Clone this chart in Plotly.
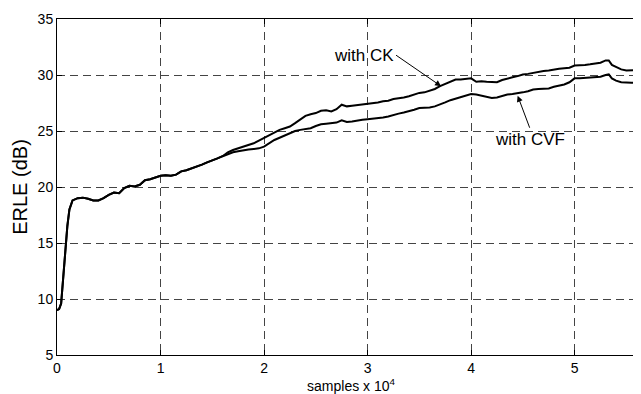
import plotly.graph_objects as go

# samples (x 10^4)
x_common = [0, 0.02, 0.04, 0.06, 0.08, 0.10, 0.12, 0.15, 0.20, 0.25, 0.30, 0.35, 0.40, 0.45,
            0.50, 0.55, 0.60, 0.65, 0.70, 0.75, 0.80, 0.85, 0.90, 0.95, 1.00, 1.05, 1.10,
            1.15, 1.20, 1.25, 1.30, 1.35, 1.40, 1.45, 1.50, 1.55, 1.60]
erle_common = [9.0, 9.1, 9.6, 12.0, 14.5, 16.5, 18.0, 18.8, 19.0, 19.05, 18.95, 18.8, 18.8,
               19.0, 19.3, 19.5, 19.45, 19.9, 20.1, 20.05, 20.2, 20.6, 20.7, 20.85, 21.0,
               21.05, 21.0, 21.1, 21.4, 21.5, 21.65, 21.85, 22.0, 22.2, 22.35, 22.55, 22.75]

x_tail = [1.65, 1.70, 1.75, 1.80, 1.85, 1.90, 1.95, 2.00, 2.05, 2.10, 2.15, 2.20, 2.25, 2.30,
          2.35, 2.40, 2.45, 2.50, 2.55, 2.60, 2.65, 2.70, 2.75, 2.80, 2.85, 2.90, 2.95, 3.00,
          3.05, 3.10, 3.15, 3.20, 3.25, 3.30, 3.35, 3.40, 3.45, 3.50, 3.55, 3.60, 3.65, 3.70,
          3.75, 3.80, 3.85, 3.90, 3.95, 4.00, 4.05, 4.10, 4.15, 4.20, 4.25, 4.30, 4.35, 4.40,
          4.45, 4.50, 4.55, 4.60, 4.65, 4.70, 4.75, 4.80, 4.85, 4.90, 4.95, 5.00, 5.05, 5.10,
          5.15, 5.20, 5.25, 5.30, 5.33, 5.36, 5.40, 5.45, 5.50, 5.55, 5.60, 5.65, 5.68]

ck_tail = [23.1, 23.3, 23.45, 23.55, 23.7, 23.9, 24.15, 24.4, 24.65, 24.9, 25.1, 25.25, 25.4,
           25.7, 26.05, 26.35, 26.5, 26.6, 26.8, 26.85, 26.75, 26.95, 27.35, 27.2, 27.25, 27.3,
           27.4, 27.45, 27.5, 27.55, 27.65, 27.7, 27.85, 27.9, 28.0, 28.1, 28.25, 28.4, 28.45,
           28.6, 28.75, 29.0, 29.2, 29.45, 29.6, 29.6, 29.65, 29.7, 29.4, 29.45, 29.4, 29.4,
           29.35, 29.55, 29.7, 29.8, 29.9, 30.05, 30.1, 30.2, 30.25, 30.35, 30.4, 30.5, 30.55,
           30.6, 30.65, 30.85, 30.85, 30.9, 30.95, 31.05, 31.1, 31.3, 31.3, 30.9, 30.7, 30.5,
           30.4, 30.4, 30.45, 30.45, 30.8]

cvf_tail = [22.95, 23.1, 23.2, 23.3, 23.35, 23.4, 23.45, 23.6, 23.9, 24.2, 24.4, 24.6, 24.75,
            25.0, 25.1, 25.2, 25.25, 25.45, 25.6, 25.65, 25.7, 25.75, 25.95, 25.8, 25.85,
            25.95, 26.0, 26.05, 26.1, 26.1, 26.2, 26.3, 26.45, 26.55, 26.65, 26.75, 26.9,
            27.05, 27.05, 27.1, 27.2, 27.35, 27.55, 27.75, 27.9, 28.05, 28.2, 28.3, 28.25,
            28.15, 28.05, 27.95, 28.0, 28.15, 28.25, 28.3, 28.35, 28.45, 28.55, 28.7, 28.75,
            28.8, 28.8, 28.95, 29.05, 29.15, 29.35, 29.7, 29.7, 29.75, 29.75, 29.8, 29.85,
            30.0, 30.05, 29.7, 29.5, 29.35, 29.3, 29.3, 29.35, 29.4, 29.7]

x_ticks = [0, 1, 2, 3, 4, 5]
y_ticks = [5, 10, 15, 20, 25, 30, 35]

FONT = "Liberation Sans, Arial, sans-serif"

fig = go.Figure()
fig.add_trace(go.Scatter(x=x_common + x_tail, y=erle_common + cvf_tail, mode="lines",
                         line=dict(color="black", width=2), name="with CVF"))
fig.add_trace(go.Scatter(x=x_common + x_tail, y=erle_common + ck_tail, mode="lines",
                         line=dict(color="black", width=2), name="with CK"))

axis_common = dict(showline=True, linecolor="black", linewidth=1, mirror="ticks",
                   ticks="inside", ticklen=5, tickcolor="black",
                   showgrid=True, gridcolor="#444444", gridwidth=1, griddash="8px,5px",
                   zeroline=False, tickfont=dict(family=FONT, size=14, color="black"))

fig.update_xaxes(range=[0, 5.68], tickvals=x_ticks, ticktext=[str(v) for v in x_ticks],
                 title=dict(text="samples x 10<sup>4</sup>", standoff=6,
                            font=dict(family=FONT, size=14, color="black")),
                 **axis_common)
fig.update_yaxes(range=[5, 35], tickvals=y_ticks, ticktext=[str(v) for v in y_ticks],
                 title=dict(text="ERLE (dB)", standoff=4,
                            font=dict(family=FONT, size=20, color="black")),
                 **axis_common)

# labels with arrows
fig.add_annotation(x=3.71, y=29.0, xref="x", yref="y", text="with CK", showarrow=True,
                   ax=-45, ay=-31, xanchor="right", yanchor="middle",
                   arrowhead=2, arrowsize=1.2, arrowwidth=1, arrowcolor="black",
                   font=dict(family=FONT, size=17, color="black"))
fig.add_annotation(x=4.45, y=28.15, xref="x", yref="y", text="with CVF", showarrow=True,
                   ax=12, ay=32, xanchor="center", yanchor="top",
                   arrowhead=2, arrowsize=1.2, arrowwidth=1, arrowcolor="black",
                   font=dict(family=FONT, size=17, color="black"))

fig.update_layout(width=641, height=394, margin=dict(l=49, r=4, t=11, b=47),
                  plot_bgcolor="white", paper_bgcolor="white", showlegend=False,
                  font=dict(family=FONT, color="black"))

fig.write_html("out.html")
